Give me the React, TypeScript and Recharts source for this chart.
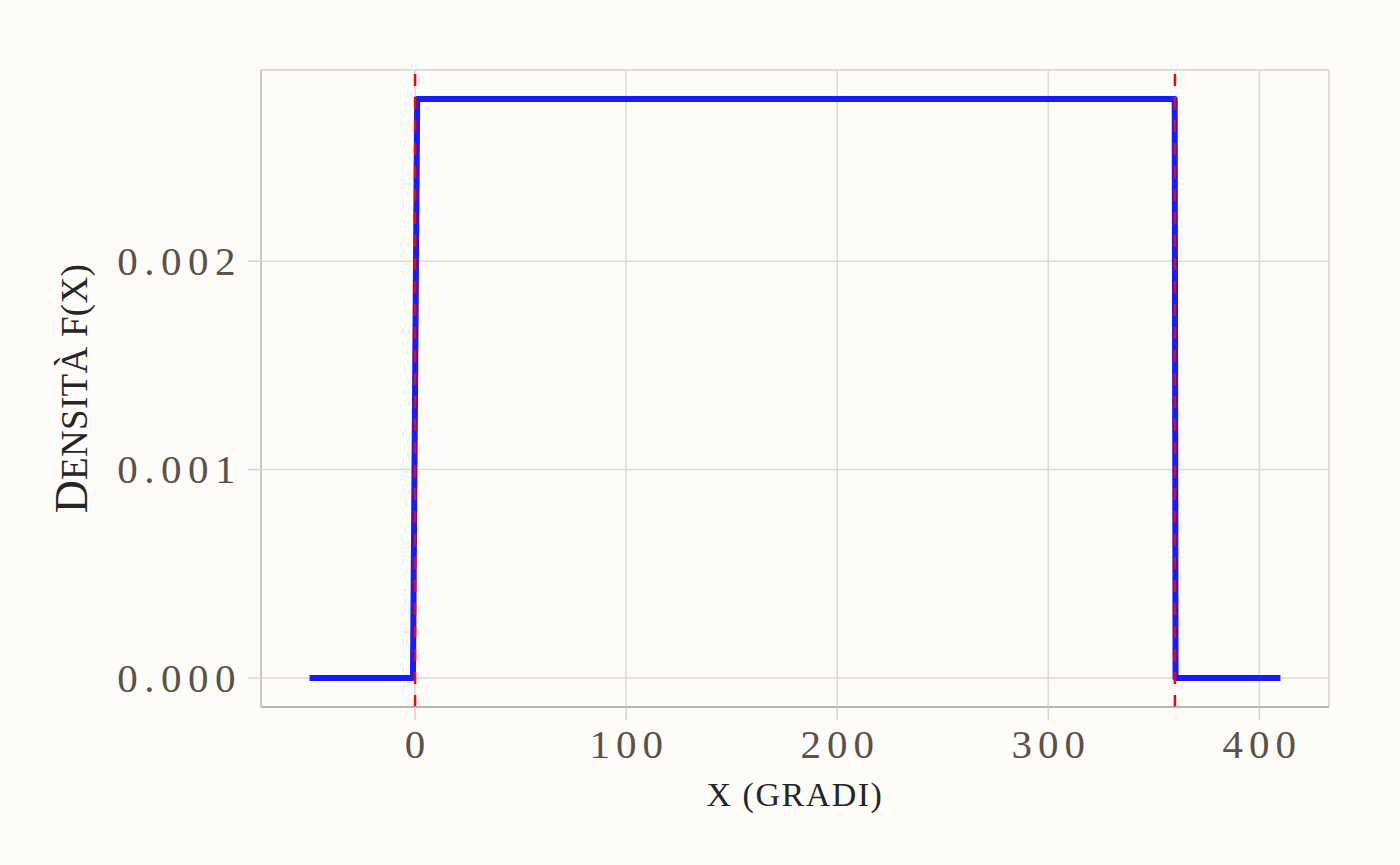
import React from "react";
import { LineChart, Line, XAxis, YAxis, CartesianGrid, ReferenceLine } from "recharts";

// Uniform density on [0, 360] degrees
const X_VALUES = [-50, -1, 1, 359.9, 360.3, 410];
const DENSITY = [0, 0, 0.002778, 0.002778, 0, 0];
const BOUNDS = [0, 360];
const X_TICKS = [0, 100, 200, 300, 400];
const Y_TICKS = [0, 0.001, 0.002];
const X_DOMAIN = [-73, 433];
const Y_DOMAIN = [-0.000139, 0.002917];

const data = X_VALUES.map((x, i) => ({ x, y: DENSITY[i] }));
const boundLines = BOUNDS.map((b) => [
  { x: b, y: Y_DOMAIN[0] },
  { x: b, y: Y_DOMAIN[1] },
]);

const FONT = "'Liberation Serif', 'DejaVu Serif', serif";
const TICK_COLOR = "#5b5149";
const TITLE_COLOR = "#262626";
const BG = "#fdfcf9";

const XTick = (props: any) => {
  const { x, y, payload } = props;
  return (
    <text
      x={x + 3}
      y={y + 38}
      textAnchor="middle"
      fontFamily={FONT}
      fontSize={41}
      letterSpacing={6}
      fill={TICK_COLOR}
    >
      {String(payload.value)}
    </text>
  );
};

const YTick = (props: any) => {
  const { x, y, payload } = props;
  return (
    <text
      x={x + 7}
      y={y}
      dy="0.33em"
      textAnchor="end"
      fontFamily={FONT}
      fontSize={41}
      letterSpacing={6.5}
      fill={TICK_COLOR}
    >
      {Number(payload.value).toFixed(3)}
    </text>
  );
};

const YTitle = (props: any) => {
  const vb = props.viewBox || { x: 0, y: 0, width: 0, height: 0 };
  const x = vb.x + 87;
  const y = vb.y + vb.height / 2;
  return (
    <text
      x={x}
      y={y}
      transform={`rotate(-90, ${x}, ${y})`}
      textAnchor="middle"
      fontFamily={FONT}
      fill={TITLE_COLOR}
    >
      <tspan fontSize={46}>D</tspan>
      <tspan fontSize={37} letterSpacing={0.3} style={{ textTransform: "uppercase" }}>
        ensità f(x)
      </tspan>
    </text>
  );
};

const XTitle = (props: any) => {
  const vb = props.viewBox || { x: 0, y: 0, width: 0, height: 0 };
  const x = vb.x + vb.width / 2;
  const y = vb.y + 99;
  return (
    <text
      x={x}
      y={y}
      textAnchor="middle"
      fontFamily={FONT}
      fontSize={34}
      letterSpacing={1.5}
      style={{ textTransform: "uppercase" }}
      fill={TITLE_COLOR}
    >
      x (gradi)
    </text>
  );
};

export default function App() {
  return (
    <div
      style={{
        position: "absolute",
        left: 0,
        top: 0,
        width: 1400,
        height: 865,
        background: BG,
      }}
    >
      <LineChart
        width={1400}
        height={865}
        data={data}
        margin={{ top: 70, right: 71, left: 0, bottom: 0 }}
      >
        <CartesianGrid stroke="#dcdad5" strokeWidth={1.5} />
        <XAxis
          dataKey="x"
          type="number"
          domain={X_DOMAIN}
          allowDataOverflow
          ticks={X_TICKS}
          height={158}
          tickSize={13}
          tickMargin={0}
          tickLine={{ stroke: "#d6d4cf", strokeWidth: 1.5 }}
          axisLine={{ stroke: "#a9a7a3", strokeWidth: 1.5 }}
          tick={<XTick />}
          label={{ content: (p: any) => <XTitle {...p} /> }}
        />
        <YAxis
          type="number"
          domain={Y_DOMAIN}
          allowDataOverflow
          ticks={Y_TICKS}
          width={261}
          tickSize={13}
          tickMargin={13}
          tickLine={{ stroke: "#d6d4cf", strokeWidth: 1.5 }}
          axisLine={{ stroke: "#c6c4c0", strokeWidth: 1.5 }}
          tick={<YTick />}
          label={{ content: (p: any) => <YTitle {...p} /> }}
        />
        <ReferenceLine y={Y_DOMAIN[1]} stroke="#dcdad5" strokeWidth={1.5} />
        <ReferenceLine x={X_DOMAIN[1]} stroke="#dcdad5" strokeWidth={1.5} />
        <Line
          dataKey="y"
          type="linear"
          stroke="#1a1aff"
          strokeWidth={6}
          strokeLinejoin="round"
          dot={false}
          activeDot={false}
          isAnimationActive={false}
        />
        {boundLines.map((d, i) => (
          <Line
            key={i}
            data={d}
            dataKey="y"
            type="linear"
            stroke="#ff0000"
            strokeWidth={2.5}
            strokeDasharray="12 11"
            dot={false}
            activeDot={false}
            isAnimationActive={false}
          />
        ))}
      </LineChart>
    </div>
  );
}
